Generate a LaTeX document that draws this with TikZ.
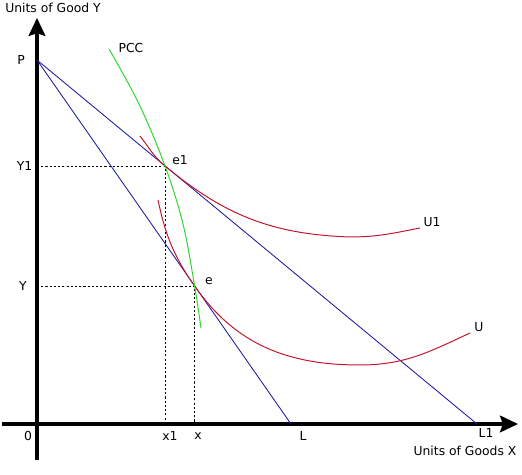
\documentclass[tikz,border=0pt]{standalone}
\usepackage{fontspec}
\setmainfont{DejaVu Sans}
\usetikzlibrary{arrows.meta,positioning,calc}
\definecolor{budgetblue}{RGB}{25,25,160}
\definecolor{icred}{RGB}{195,20,45}
\definecolor{pccgreen}{RGB}{45,215,45}

\begin{document}
\begin{tikzpicture}[
    axis/.style={line width=2.2pt, -{Stealth[length=0.45cm, width=0.42cm, inset=0.07cm]}},
    budgetline/.style={draw=budgetblue, line width=0.6pt},
    icurve/.style={draw=icred, line width=0.7pt},
    pccline/.style={draw=pccgreen, line width=0.7pt},
    guide/.style={draw=black, line width=0.6pt, dash pattern=on 1.5pt off 1.5pt},
    lbl/.style={inner sep=0pt, font=\fontsize{8.8}{10}\selectfont}
]
    \useasboundingbox (-0.925,-1.275) rectangle (12.125,10.6);

    % points of the diagram
    \coordinate (O) at (0,0);
    \coordinate (P) at (0,9.1);
    \coordinate (L) at (6.35,0);
    \coordinate (L1) at (11.0,0);
    \coordinate (e1) at (3.2,6.45);
    \coordinate (e) at (3.94,3.45);

    % axes
    \draw[axis] (0,-0.9) -- (0,10.15);
    \draw[axis] (-0.875,0) -- (12.025,0);

    % dashed guides
    \draw[guide] (e1 -| O) -- (e1) -- (e1 |- O);
    \draw[guide] (e -| O) -- (e) -- (e |- O);

    % budget lines
    \draw[budgetline] (P) -- (L);
    \draw[budgetline] (P) -- (L1);

    % indifference curves
    \draw[icurve] (2.575,7.2) to[out=-52, in=140.4] (e1)
        to[out=-39.6, in=178] (7.825,4.675)
        to[out=0, in=191] (9.575,4.9);
    \draw[icurve] (3.025,5.6) to[out=-78, in=124.9] (e)
        to[out=-55.1, in=180] (8.075,1.475)
        to[out=0, in=205] (10.825,2.275);

    % price consumption curve
    \draw[pccline] plot[smooth, tension=0.6] coordinates {(1.8,9.375) (2.55,8.0) (e1) (3.65,5.0) (e) (4.1,2.4)};

    % labels
    \node[lbl, anchor=west] (ylab) at (-0.8,10.4) {Units of Good Y};
    \node[lbl] (xlab) at (10.7,-0.675) {Units of Goods X};
    \node[lbl] (pl) at (-0.4,9.1) {P};
    \node[lbl] (y1l) at (-0.31,6.45) {Y1};
    \node[lbl] (yl) at (-0.35,3.45) {Y};
    \node[lbl] (ol) at (-0.225,-0.3) {0};
    \node[lbl] (x1l) at (3.325,-0.3) {x1};
    \node[lbl] (xl) at (4.025,-0.3) {x};
    \node[lbl] (ll) at (6.65,-0.3) {L};
    \node[lbl] (l1l) at (11.225,-0.225) {L1};
    \node[lbl] (pccl) at (2.35,9.4) {PCC};
    \node[lbl] (e1l) at (3.575,6.6) {e1};
    \node[lbl] (el) at (4.3,3.575) {e};
    \node[lbl] (u1l) at (9.875,5.05) {U1};
    \node[lbl] (ul) at (11.05,2.425) {U};
\end{tikzpicture}
\end{document}
